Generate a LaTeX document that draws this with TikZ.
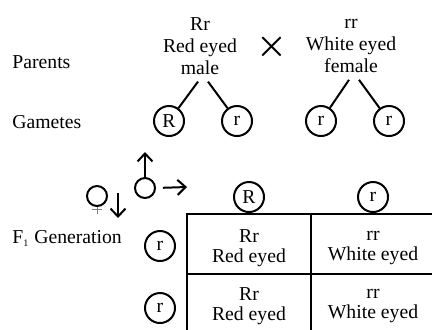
\documentclass[tikz,border=0pt]{standalone}
\usepackage{fontspec}
\setmainfont{Liberation Serif}
\usetikzlibrary{arrows.meta,positioning}
\begin{document}
\begin{tikzpicture}[x=0.5pt,y=-0.5pt,
    font=\fontsize{9.85}{11}\selectfont,
    lab/.style={anchor=west,inner sep=0pt},
    par/.style={align=center},
    gam/.style={circle,draw,line width=1pt,minimum size=15pt,inner sep=0pt},
    sex/.style={circle,draw,line width=1pt,minimum size=10pt,inner sep=0pt},
    cell/.style={draw,line width=1pt,minimum width=62pt,minimum height=30pt},
    txt/.style={align=center,font=\fontsize{9.85}{10}\selectfont},
    arr/.style={line width=1pt,-{Straight Barb[length=4pt,width=7.5pt]}}]
    \useasboundingbox (0,0) rectangle (432,329);
    \clip (0,0) rectangle (432,329);
    \node (lpar) [lab] at (12,62) {Parents};
    \node (lgam) [lab] at (12,122) {Gametes};
    \node (lgen) [lab] at (12,238) {F\textsubscript{\tiny 1} Generation};
    \node (pm) [par] at (200,46) {Rr\\Red eyed\\male};
    \node (pf) [par] at (351,46) {rr\\White eyed\\female};
    \node (cross) [font=\fontsize{16}{16}\selectfont\boldmath] at (272,47) {$\times$};
    \node (g1) [gam] at (169,121) {R}; \node (g2) [gam] at (237,121) {r};
    \node (g3) [gam] at (321,121) {r}; \node (g4) [gam] at (389,121) {r};
    \draw[line width=1pt] ([xshift=-1pt]pm.south) -- (g1);
    \draw[line width=1pt] ([xshift=4pt]pm.south) -- (g2);
    \draw[line width=1pt] ([xshift=-1pt]pf.south) -- (g3);
    \draw[line width=1pt] ([xshift=4pt]pf.south) -- (g4);
    \node (mc) [sex] at (145,188) {};
    \coordinate (mup) at (145,152); \coordinate (mrt) at (187,187);
    \draw[arr] (mc) -- (mup); \draw[arr,shorten <=3.5pt] (mc.east) -- (mrt);
    \node (fc) [sex] at (97,196) {};
    \coordinate (fbot) at (97,214); \coordinate (fcl) at (92,209);
    \coordinate (fcr) at (102,209);
    \draw[gray,line width=0.5pt] (fc) -- (fbot); \draw[gray,line width=0.5pt] (fcl) -- (fcr);
    \coordinate (fa1) at (118,193); \coordinate (fa2) at (118,218);
    \draw[arr] (fa1) -- (fa2);
    \node (c11) [cell] at (249,244) {}; \node (c12) [cell] at (373,244) {};
    \node (c21) [cell] at (249,304) {}; \node (c22) [cell] at (373,304) {};
    \node (t11) [txt] at (249,248) {Rr\\Red eyed};
    \node (t12) [txt] at (373,248) {rr\\White eyed};
    \node (t21) [txt] at (249,306) {Rr\\Red eyed};
    \node (t22) [txt] at (373,306) {rr\\White eyed};
    \node (hR) [gam,above=0pt of c11] {R}; \node (hr) [gam,above=0pt of c12] {r};
    \node (r1) [gam,left=5pt of c11,yshift=-1pt] {r}; \node (r2) [gam,left=5pt of c21,yshift=-2pt] {r};
\end{tikzpicture}
\end{document}
